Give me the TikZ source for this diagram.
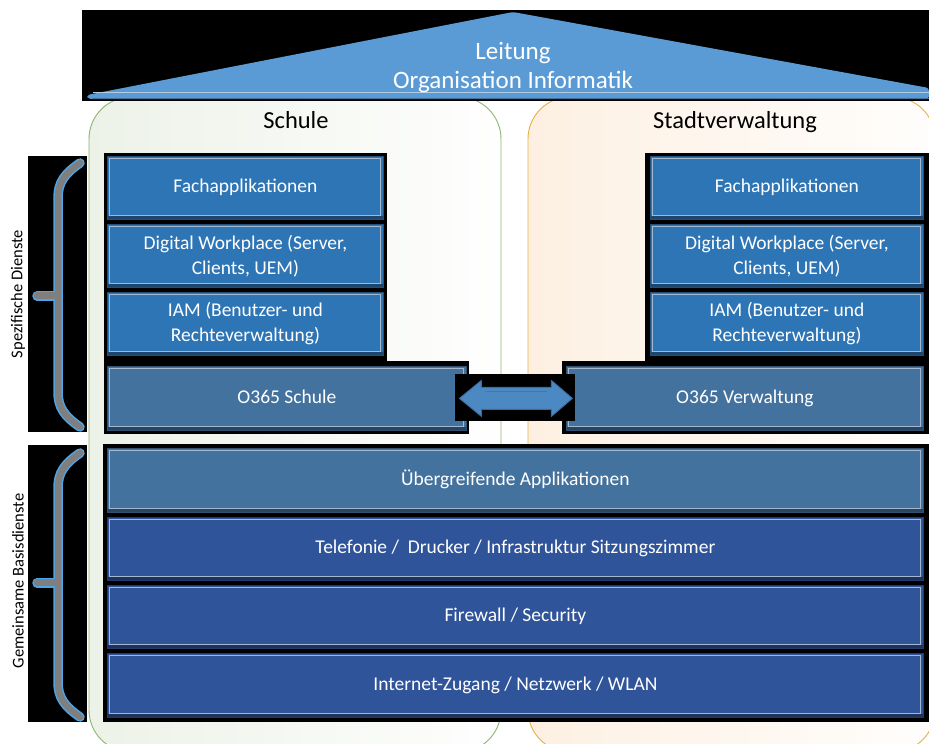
\documentclass[tikz,border=0pt]{standalone}
\usepackage{fontspec}
\setmainfont{Carlito}
\usetikzlibrary{calc}
\definecolor{roofblue}{HTML}{5B9BD5}
\definecolor{roofline}{HTML}{B5CBE0}
\definecolor{roofdark}{HTML}{41719C}
\definecolor{boxblue}{HTML}{2E75B6}
\definecolor{steelblue}{HTML}{44729E}
\definecolor{deepblue}{HTML}{30549A}
\definecolor{insetline}{HTML}{A3B8CE}
\definecolor{schgreen}{HTML}{8DB56E}
\definecolor{schfill}{HTML}{EDF2E8}
\definecolor{stdorange}{HTML}{E8B040}
\definecolor{stdfill}{HTML}{FDF0E2}
\definecolor{arrowblue}{HTML}{4C88C2}
\definecolor{arrowedge}{HTML}{3A6CA3}
\definecolor{bracketgray}{HTML}{7F7F7F}
\definecolor{bracketglow}{HTML}{4DA6E8}
\begin{document}
\begin{tikzpicture}[x=1pt,y=-1pt,
  layer/.style={rectangle, anchor=north west, fill=#1, draw=#1!70!black, line width=0.8pt,
    text=white, font=\fontsize{19.5}{25}\selectfont, align=center, inner sep=0pt,
    path picture={
      \fill[#1!60!black] (path picture bounding box.south west) rectangle ([yshift=3pt]path picture bounding box.south east);
      \draw[insetline, line width=1.1pt] ([shift={(2.5pt,-2.5pt)}]path picture bounding box.north west) rectangle ([shift={(-2.5pt,4pt)}]path picture bounding box.south east);
    }},
  oneline/.style={text height=13.5pt, text depth=4pt},
  glowline/.style={bracketglow, line width=9.5pt, line cap=round},
  grayline/.style={bracketgray, line width=6.5pt, line cap=round},
  title/.style={font=\fontsize{24.5}{29}\selectfont, text=black, anchor=base},
  sidelabel/.style={rotate=90, font=\fontsize{16.5}{20}\selectfont, text=black},
  fatarrow/.style={fill=arrowblue, draw=arrowedge, line width=0.9pt, line join=round}
]
\useasboundingbox (0,0) rectangle (929,744);
\clip (0,0) rectangle (929,744);
\fill[white] (0,0) rectangle (929,744);

% containers
\draw[schgreen, line width=0.9pt, left color=schfill, right color=white!97!schfill, rounded corners=42pt] (89,97) rectangle (501,752);
\draw[stdorange, line width=0.9pt, left color=stdfill, right color=white!92!stdfill, rounded corners=42pt] (528,97) rectangle (935,752);

% roof
\fill[black] (82,10) rectangle (929,101);
\fill[roofblue, rounded corners=3pt] (87,95) -- (513,12) -- (929,88) -- (929,99) -- (88,99) -- cycle;
\draw[roofline, line width=1pt] (93,92) -- (929,92);
\draw[roofdark, line width=1.2pt] (92,98.8) -- (929,98.8);
\node[font=\fontsize{25}{29}\selectfont, text=white, align=center] (lead) at (513,68) {Leitung\\Organisation Informatik};

% titles
\node[title] (schule) at (296,128) {Schule};
\node[title] (stadt) at (735,128) {Stadtverwaltung};

% side brackets
\fill[black] (28,156) rectangle (87,432);
\fill[black] (28,445) rectangle (87,722);
\draw[glowline] (80,163) .. controls (64,174) and (58,183) .. (58,198) -- (58,392) .. controls (58,407) and (64,416) .. (80,427);
\draw[glowline] (37,296) -- (58,296);
\draw[grayline] (80,163) .. controls (64,174) and (58,183) .. (58,198) -- (58,392) .. controls (58,407) and (64,416) .. (80,427);
\draw[grayline] (37,295.5) -- (58,295.5);
\draw[glowline] (80,453) .. controls (64,464) and (58,473) .. (58,488) -- (58,682) .. controls (58,697) and (64,706) .. (80,717);
\draw[glowline] (37,583) -- (58,583);
\draw[grayline] (80,453) .. controls (64,464) and (58,473) .. (58,488) -- (58,682) .. controls (58,697) and (64,706) .. (80,717);
\draw[grayline] (37,582.5) -- (58,582.5);
\node[sidelabel] (lspez) at (18,294) {Spezifische Dienste};
\node[sidelabel] (lbasis) at (18,581) {Gemeinsame Basisdienste};

% black backings
\fill[black] (104,153) rectangle (387,362);
\fill[black] (104,361) rectangle (469,434);
\fill[black] (645,153) rectangle (929,362);
\fill[black] (562,361) rectangle (929,434);
\fill[black] (103,444) rectangle (929,722);

% Schule column
\node[layer=boxblue, oneline, minimum width=276pt, minimum height=63pt] (sfa) at (107,156) {Fachapplikationen};
\node[layer=boxblue, minimum width=276pt, minimum height=63pt] (sdw) at (107,224) {Digital Workplace (Server,\\Clients, UEM)};
\node[layer=boxblue, minimum width=276pt, minimum height=63pt] (siam) at (107,292) {IAM (Benutzer- und\\Rechteverwaltung)};
\node[layer=steelblue, oneline, minimum width=359pt, minimum height=64pt] (so) at (107,366) {O365 Schule};

% Stadtverwaltung column
\node[layer=boxblue, oneline, minimum width=273pt, minimum height=63pt] (vfa) at (650,156) {Fachapplikationen};
\node[layer=boxblue, minimum width=273pt, minimum height=63pt] (vdw) at (650,224) {Digital Workplace (Server,\\Clients, UEM)};
\node[layer=boxblue, minimum width=273pt, minimum height=63pt] (viam) at (650,292) {IAM (Benutzer- und\\Rechteverwaltung)};
\node[layer=steelblue, oneline, minimum width=357pt, minimum height=64pt] (vo) at (566,366) {O365 Verwaltung};

% shared layers
\node[layer=steelblue, oneline, minimum width=816pt, minimum height=64pt] (ua) at (107,448) {Übergreifende Applikationen};
\node[layer=deepblue, oneline, minimum width=816pt, minimum height=63pt] (tel) at (107,517) {Telefonie /\ \ Drucker / Infrastruktur Sitzungszimmer};
\node[layer=deepblue, oneline, minimum width=816pt, minimum height=63pt] (fw) at (107,585) {Firewall / Security};
\node[layer=deepblue, oneline, minimum width=816pt, minimum height=64pt] (inet) at (107,653) {Internet-Zugang / Netzwerk / WLAN};

% double arrow between O365 boxes
\coordinate (mid) at ($(so.east)!0.5!(vo.west)$);
\fill[black] ([shift={(-61pt,24pt)}]mid) rectangle ([shift={(59pt,-23pt)}]mid);
\draw[fatarrow] ([shift={(-57pt,0pt)}]mid) -- ([shift={(-35pt,18pt)}]mid) -- ([shift={(-35pt,11pt)}]mid)
  -- ([shift={(35pt,11pt)}]mid) -- ([shift={(35pt,18pt)}]mid) -- ([shift={(56pt,0pt)}]mid)
  -- ([shift={(35pt,-18pt)}]mid) -- ([shift={(35pt,-11pt)}]mid) -- ([shift={(-35pt,-11pt)}]mid)
  -- ([shift={(-35pt,-18pt)}]mid) -- cycle;
\draw[arrowedge!60!arrowblue, line width=0.8pt] ([shift={(-31pt,7pt)}]mid) -- ([shift={(31pt,7pt)}]mid);
\end{tikzpicture}
\end{document}
